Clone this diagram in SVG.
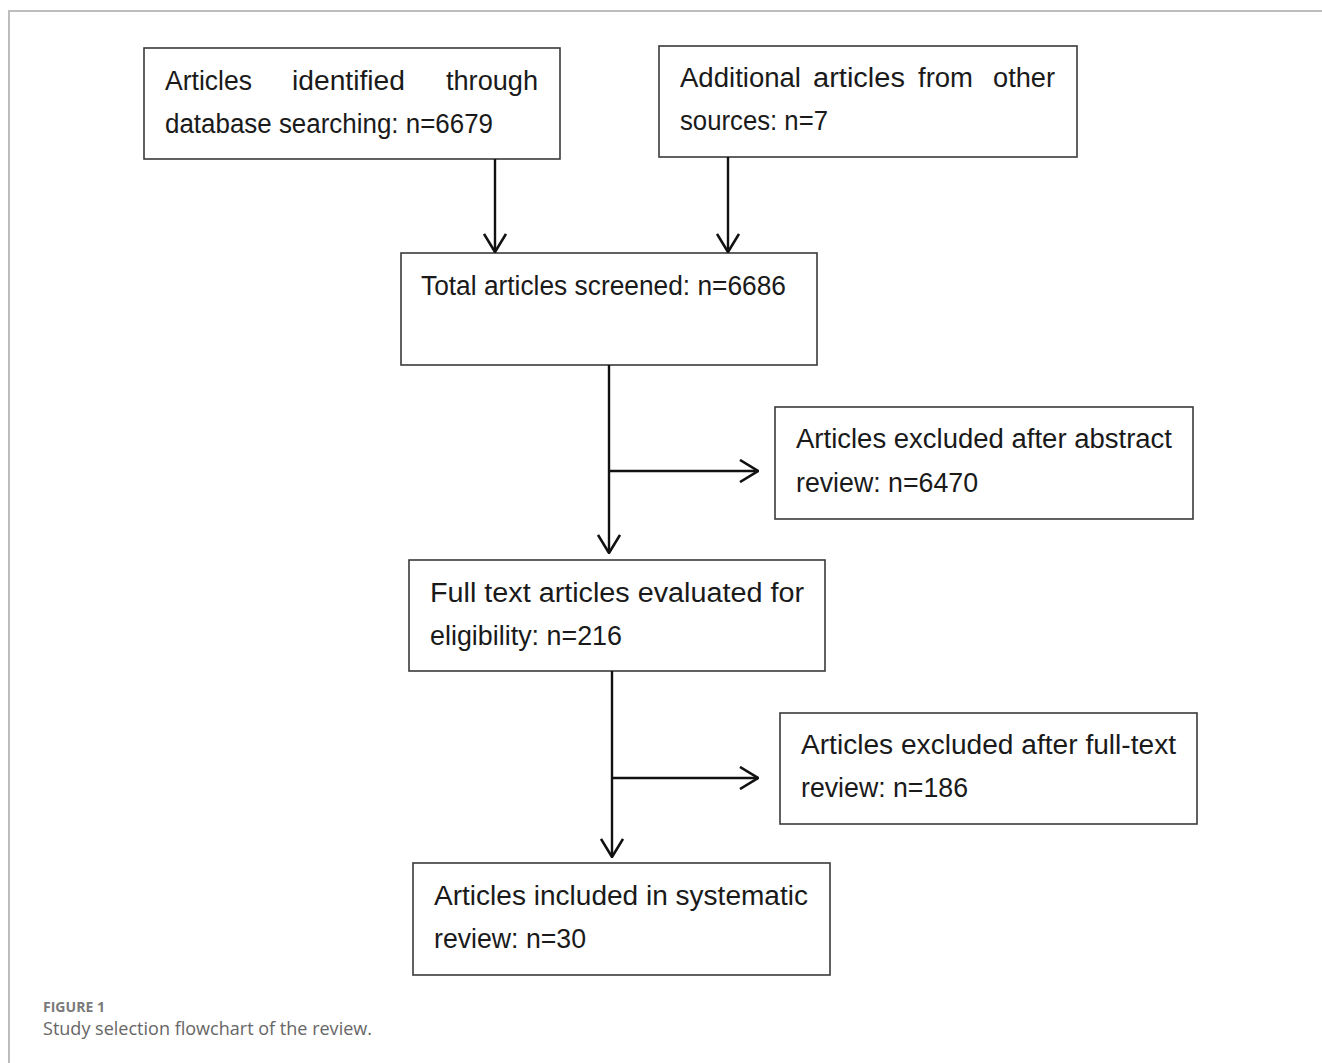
<svg xmlns="http://www.w3.org/2000/svg" width="1322" height="1063" viewBox="0 0 1322 1063">
<defs>
<style>
.box{fill:#ffffff;stroke:#3a3a3a;stroke-width:1.6}
.t{font-family:"Liberation Sans",Arial,sans-serif;font-size:27px;fill:#1a1a1a}
.c{stroke:#111;stroke-width:2.4;fill:none}
.frame{stroke:#bdbdbd;stroke-width:2;fill:none}
.cap1{font-family:"Open Sans","Liberation Sans",sans-serif;font-size:14px;font-weight:bold;fill:#7a7a7a}
.cap2{font-family:"Open Sans","Liberation Sans",sans-serif;font-size:18px;fill:#666666}
</style>
<marker id="ah" viewBox="0 0 20 24" refX="19" refY="12" markerWidth="20" markerHeight="24" markerUnits="userSpaceOnUse" orient="auto">
<path d="M1,1 L19,12 L1,23" fill="none" stroke="#111" stroke-width="2.6"/>
</marker>
</defs>
<rect width="1322" height="1063" fill="#ffffff"/>
<path class="frame" d="M9,1063 L9,11 L1322,11"/>

<g id="n1">
<rect class="box" x="144" y="48" width="416" height="111"/>
<text class="t" y="90"><tspan x="165" textLength="87" lengthAdjust="spacingAndGlyphs">Articles</tspan><tspan x="292" textLength="113" lengthAdjust="spacingAndGlyphs">identified</tspan><tspan x="446" textLength="92" lengthAdjust="spacingAndGlyphs">through</tspan></text>
<text class="t" x="165" y="133" textLength="328" lengthAdjust="spacingAndGlyphs">database searching: n=6679</text>
</g>

<g id="n2">
<rect class="box" x="659" y="46" width="418" height="111"/>
<text class="t" y="87"><tspan x="680" textLength="121" lengthAdjust="spacingAndGlyphs">Additional</tspan><tspan x="813" textLength="92" lengthAdjust="spacingAndGlyphs">articles</tspan><tspan x="918" textLength="55" lengthAdjust="spacingAndGlyphs">from</tspan><tspan x="993" textLength="62" lengthAdjust="spacingAndGlyphs">other</tspan></text>
<text class="t" x="680" y="130" textLength="148" lengthAdjust="spacingAndGlyphs">sources: n=7</text>
</g>

<g id="n3">
<rect class="box" x="401" y="253" width="416" height="112"/>
<text class="t" x="421" y="295" textLength="365" lengthAdjust="spacingAndGlyphs">Total articles screened: n=6686</text>
</g>

<g id="n4">
<rect class="box" x="775" y="407" width="418" height="112"/>
<text class="t" x="796" y="448" textLength="376" lengthAdjust="spacingAndGlyphs">Articles excluded after abstract</text>
<text class="t" x="796" y="492" textLength="182" lengthAdjust="spacingAndGlyphs">review: n=6470</text>
</g>

<g id="n5">
<rect class="box" x="409" y="560" width="416" height="111"/>
<text class="t" x="430" y="602" textLength="374" lengthAdjust="spacingAndGlyphs">Full text articles evaluated for</text>
<text class="t" x="430" y="645" textLength="192" lengthAdjust="spacingAndGlyphs">eligibility: n=216</text>
</g>

<g id="n6">
<rect class="box" x="780" y="713" width="417" height="111"/>
<text class="t" x="801" y="754" textLength="375" lengthAdjust="spacingAndGlyphs">Articles excluded after full-text</text>
<text class="t" x="801" y="797" textLength="167" lengthAdjust="spacingAndGlyphs">review: n=186</text>
</g>

<g id="n7">
<rect class="box" x="413" y="863" width="417" height="112"/>
<text class="t" x="434" y="905" textLength="374" lengthAdjust="spacingAndGlyphs">Articles included in systematic</text>
<text class="t" x="434" y="948" textLength="152" lengthAdjust="spacingAndGlyphs">review: n=30</text>
</g>

<g id="connectors">
<path class="c" d="M495,159 L495,252" marker-end="url(#ah)"/>
<path class="c" d="M728,157 L728,252" marker-end="url(#ah)"/>
<path class="c" d="M609,365 L609,553" marker-end="url(#ah)"/>
<path class="c" d="M609,471 L758,471" marker-end="url(#ah)"/>
<path class="c" d="M612,671 L612,857" marker-end="url(#ah)"/>
<path class="c" d="M612,778 L758,778" marker-end="url(#ah)"/>
</g>

<text class="cap1" x="43" y="1012" textLength="62" lengthAdjust="spacingAndGlyphs">FIGURE 1</text>
<text class="cap2" x="43" y="1035" textLength="329" lengthAdjust="spacingAndGlyphs">Study selection flowchart of the review.</text>
</svg>
